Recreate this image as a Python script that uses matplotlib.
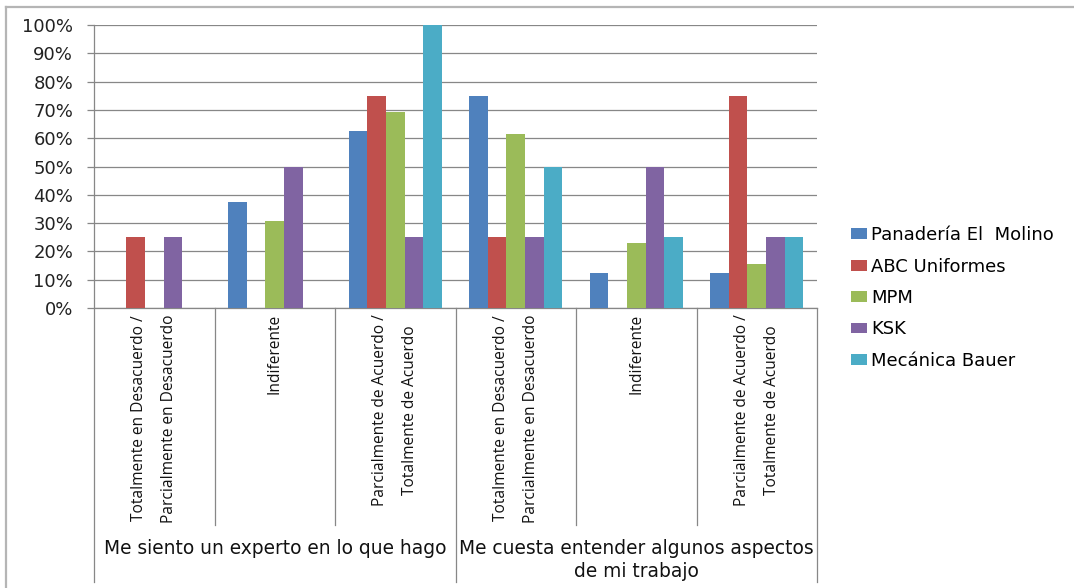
import numpy as np
import matplotlib
matplotlib.use("Agg")
import matplotlib.pyplot as plt
from matplotlib.lines import Line2D

# survey answers per company, share of respondents in each answer
questions = ["Me siento un experto en lo que hago",
             "Me cuesta entender algunos aspectos\nde mi trabajo"]
answers = ["Totalmente en Desacuerdo /\nParcialmente en Desacuerdo",
           "Indiferente",
           "Parcialmente de Acuerdo /\nTotalmente de Acuerdo"]
companies = ["Panadería El  Molino", "ABC Uniformes", "MPM", "KSK", "Mecánica Bauer"]
colors = ["#4F81BD", "#C0504D", "#9BBB59", "#8064A2", "#4BACC6"]

panaderia = [0.0, 0.375, 0.625, 0.75, 0.125, 0.125]
abc = [0.25, 0.0, 0.75, 0.25, 0.0, 0.75]
mpm = [0.0, 0.3077, 0.6923, 0.6154, 0.2308, 0.1538]
ksk = [0.25, 0.50, 0.25, 0.25, 0.50, 0.25]
bauer = [0.0, 0.0, 1.0, 0.50, 0.25, 0.25]
series = [panaderia, abc, mpm, ksk, bauer]

W, H = 1074, 588
fig = plt.figure(figsize=(W / 100, H / 100), dpi=100)
ax = fig.add_axes([94 / W, 1 - 308 / H, (817 - 94) / W, (308 - 25) / H])

grid_c = "#878787"
n_cat = len(questions) * len(answers)
x = np.arange(n_cat)
bw = 1 / 6.5
for i, (vals, c, name) in enumerate(zip(series, colors, companies)):
    ax.bar(x + (i - 2) * bw, vals, width=bw, color=c, label=name, zorder=3)

ax.set_xlim(-0.5, n_cat - 0.5)
ax.set_ylim(0, 1)
ax.set_yticks(np.linspace(0, 1, 11))
ax.set_yticklabels([f"{int(round(v * 100))}%" for v in np.linspace(0, 1, 11)],
                   fontsize=13, color="#222222", family="DejaVu Sans")
ax.tick_params(axis="y", length=5, width=0.9, color=grid_c, pad=10)
ax.set_xticks([])
ax.grid(axis="y", color=grid_c, lw=0.9, zorder=0)
for s in ax.spines.values():
    s.set_visible(False)

# multi-level category axis: separators and labels below the plot
tr = ax.get_xaxis_transform()
ax.plot([-0.5, n_cat - 0.5], [0, 0], transform=tr, color=grid_c, lw=0.9, clip_on=False)
for xs in np.arange(-0.5, n_cat):
    bottom = -0.968 if int(xs + 0.5) % 3 == 0 else -0.767
    top = 1 if xs == -0.5 else 0
    ax.plot([xs, xs], [top, bottom], transform=tr, color=grid_c, lw=0.9, clip_on=False)

for k in range(n_cat):
    ax.text(k, -0.022, answers[k % 3], transform=tr, rotation=90, ha="center", va="top",
            multialignment="center", fontsize=11.2, family="Open Sans", linespacing=2.15,
            color="#111111")
for g, q in enumerate(questions):
    ax.text(g * 3 + 1, -0.815, q, transform=tr, ha="center", va="top",
            multialignment="center", fontsize=13.4, family="DejaVu Sans", linespacing=1.3,
            color="#111111")

ax.legend(loc="center left", bbox_to_anchor=(851 / W, 1 - 298 / H),
          bbox_transform=fig.transFigure, frameon=False,
          prop={"family": "DejaVu Sans", "size": 13},
          handlelength=0.88, handleheight=0.55, handletextpad=0.25, labelspacing=0.74,
          borderaxespad=0, borderpad=0)

# outer chart frame
fc = "#b5b5b5"
fig.add_artist(Line2D([6 / W, 6 / W], [0, 1 - 7 / H], transform=fig.transFigure, color=fc, lw=1.6))
fig.add_artist(Line2D([6 / W, 1], [1 - 7 / H, 1 - 7 / H], transform=fig.transFigure, color=fc, lw=1.6))

fig.savefig("out.png", dpi=100, facecolor="white")
